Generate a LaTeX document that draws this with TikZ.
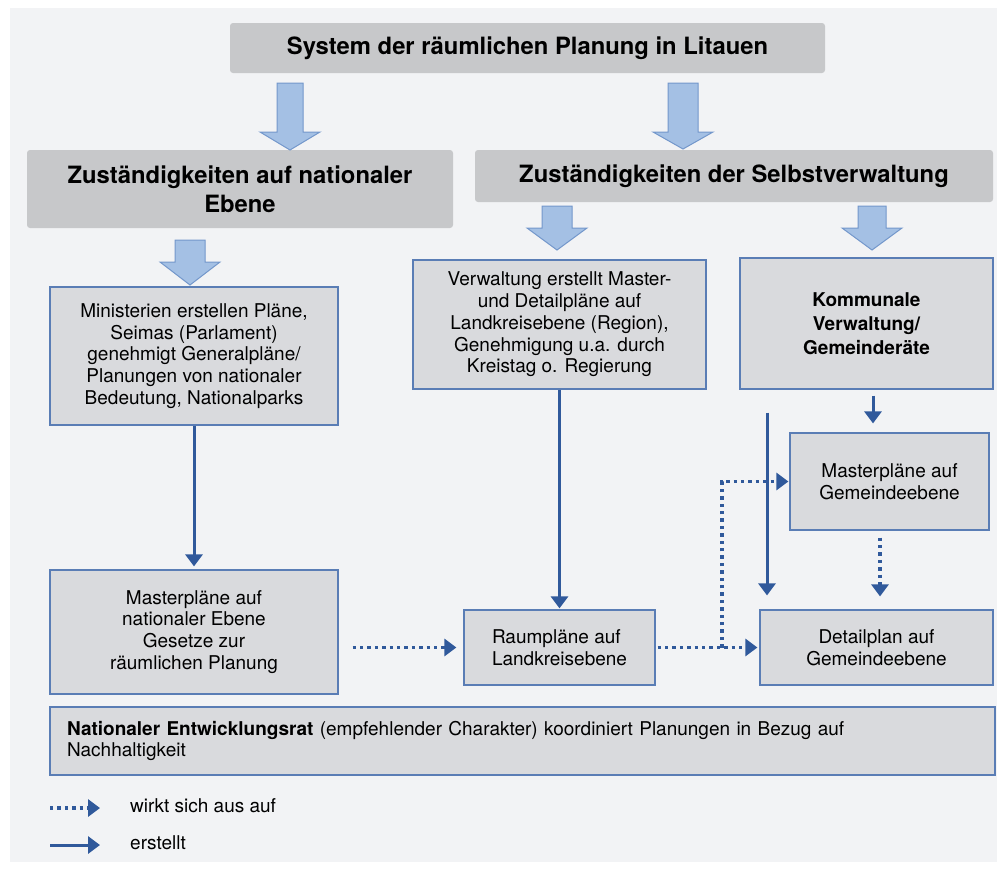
\documentclass[tikz,border=0pt]{standalone}
\usepackage{fontspec}
\setmainfont{TeX Gyre Heros}
\usetikzlibrary{positioning, arrows.meta, calc}

\definecolor{panel}{HTML}{F2F3F5}
\definecolor{headgray}{HTML}{C7C8CA}
\definecolor{boxgray}{HTML}{D9DADD}
\definecolor{lineblue}{HTML}{5A7DB5}
\definecolor{arrowblue}{HTML}{30599B}
\definecolor{bigfill}{HTML}{A4C0E4}
\definecolor{bigline}{HTML}{7397CB}

\begin{document}
\begin{tikzpicture}[x=1pt, y=-1pt]
	\tikzset{
		head/.style={fill=headgray, rounded corners=3pt, inner sep=0pt, align=center, font=\bfseries\fontsize{23.8}{29}\selectfont},
		plan/.style={draw=lineblue, line width=1.2pt, fill=boxgray, inner sep=0pt, align=center, font=\fontsize{19}{21.8}\selectfont},
		blockarrow/.style={fill=bigfill, draw=bigline, line width=1pt, line join=miter},
		makes/.style={draw=arrowblue, line width=3pt, -{Triangle[width=17pt,length=12pt]}},
		affects/.style={draw=arrowblue, line width=3.4pt, dash pattern=on 3.4pt off 4pt, -{Triangle[width=17pt,length=12pt]}},
		legend/.style={anchor=west, inner sep=0pt, font=\fontsize{19}{22}\selectfont}
	}
	\useasboundingbox (0,0) rectangle (1000,868);
	\fill[panel] (10,8) rectangle (997,862);
	
	% Kopf
	\node[head, minimum width=595, minimum height=50] (title) at (527.5,48) {System der räumlichen Planung in Litauen};
	\node[head, minimum width=426, minimum height=78] (natl) at (240,189) {Zuständigkeiten auf nationaler\\Ebene};
	\node[head, minimum width=518, minimum height=52] (selbst) at (734,176) {Zuständigkeiten der Selbstverwaltung};
	
	% Blockpfeile
	\foreach \x/\ya/\yb/\yc/\s in {290/83/132/150/13, 683/83/132/149/15, 190/240/262/285/15, 557/206/228/250/15, 872/206/228/250/14}
		\draw[blockarrow] (\x-\s,\ya) -- (\x+\s,\ya) -- (\x+\s,\yb) -- (\x+30,\yb) -- (\x,\yc) -- (\x-30,\yb) -- (\x-\s,\yb) -- cycle;
	
	% Ebenen
	\node[plan, minimum width=288, minimum height=138] (mini) at (194,356) {Ministerien erstellen Pläne,\\Seimas (Parlament)\\genehmigt Generalpläne/\\Planungen von nationaler\\Bedeutung, Nationalparks};
	\node[plan, minimum width=288, minimum height=124] (mpnat) at (194,632) {Masterpläne auf\\nationaler Ebene\\Gesetze zur\\räumlichen Planung};
	\node[plan, minimum width=293, minimum height=129] (verw) at (559.5,324.5) {Verwaltung erstellt Master-\\und Detailpläne auf\\Landkreisebene (Region),\\Genehmigung u.a. durch\\Kreistag o. Regierung};
	\node[plan, minimum width=253, minimum height=131, font=\bfseries\fontsize{19}{24}\selectfont] (komm) at (866.5,323.5) {Kommunale\\Verwaltung/\\Gemeinderäte};
	\node[plan, minimum width=199, minimum height=97] (mpgem) at (889.5,481.5) {Masterpläne auf\\Gemeindeebene};
	\node[plan, minimum width=191, minimum height=75, align=left] (raum) at (559.5,647.5) {Raumpläne auf\\Landkreisebene};
	\node[plan, minimum width=233, minimum height=75] (detail) at (876.5,647.5) {Detailplan auf\\Gemeindeebene};
	\node[plan, minimum width=945, minimum height=68, text width=911, inner xsep=17, align=left, font=\fontsize{19}{21}\selectfont] (rat) at (522.5,741) {\textbf{Nationaler Entwicklungsrat} (empfehlender Charakter) koordiniert Planungen in Bezug auf\\Nachhaltigkeit};
	
	% erstellt
	\draw[makes, shorten >=3] (mini) -- (mpnat);
	\draw[makes, shorten >=1] (verw) -- (raum);
	\draw[makes, shorten <=6, shorten >=9] (komm.south -| 873,0) -- (mpgem.north -| 873,0);
	\coordinate (kx) at (767,0);
	\draw[makes, shorten <=23, shorten >=14] (kx |- komm.south) -- (kx |- detail.north);
	
	% wirkt sich aus auf
	\coordinate (br) at (722,0);
	\draw[affects, shorten <=14, shorten >=7] (mpnat.east |- raum.west) -- (raum.west);
	\draw[affects, shorten <=2, shorten >=2] (raum.east) -- (detail.west);
	\draw[affects, shorten >=1] (br |- raum.east) |- (mpgem.west);
	\draw[affects, shorten <=7, shorten >=13] (mpgem.south -| 880,0) -- (detail.north -| 880,0);
	
	% Legende
	\coordinate (d0) at (50,808);
	\coordinate (d1) at (100,808);
	\coordinate (s0) at (50,845);
	\coordinate (s1) at (100,845);
	\draw[affects] (d0) -- (d1);
	\draw[makes] (s0) -- (s1);
	\node[legend] (dtxt) at (130,806) {wirkt sich aus auf};
	\node[legend] (stxt) at (130,843) {erstellt};
\end{tikzpicture}
\end{document}
